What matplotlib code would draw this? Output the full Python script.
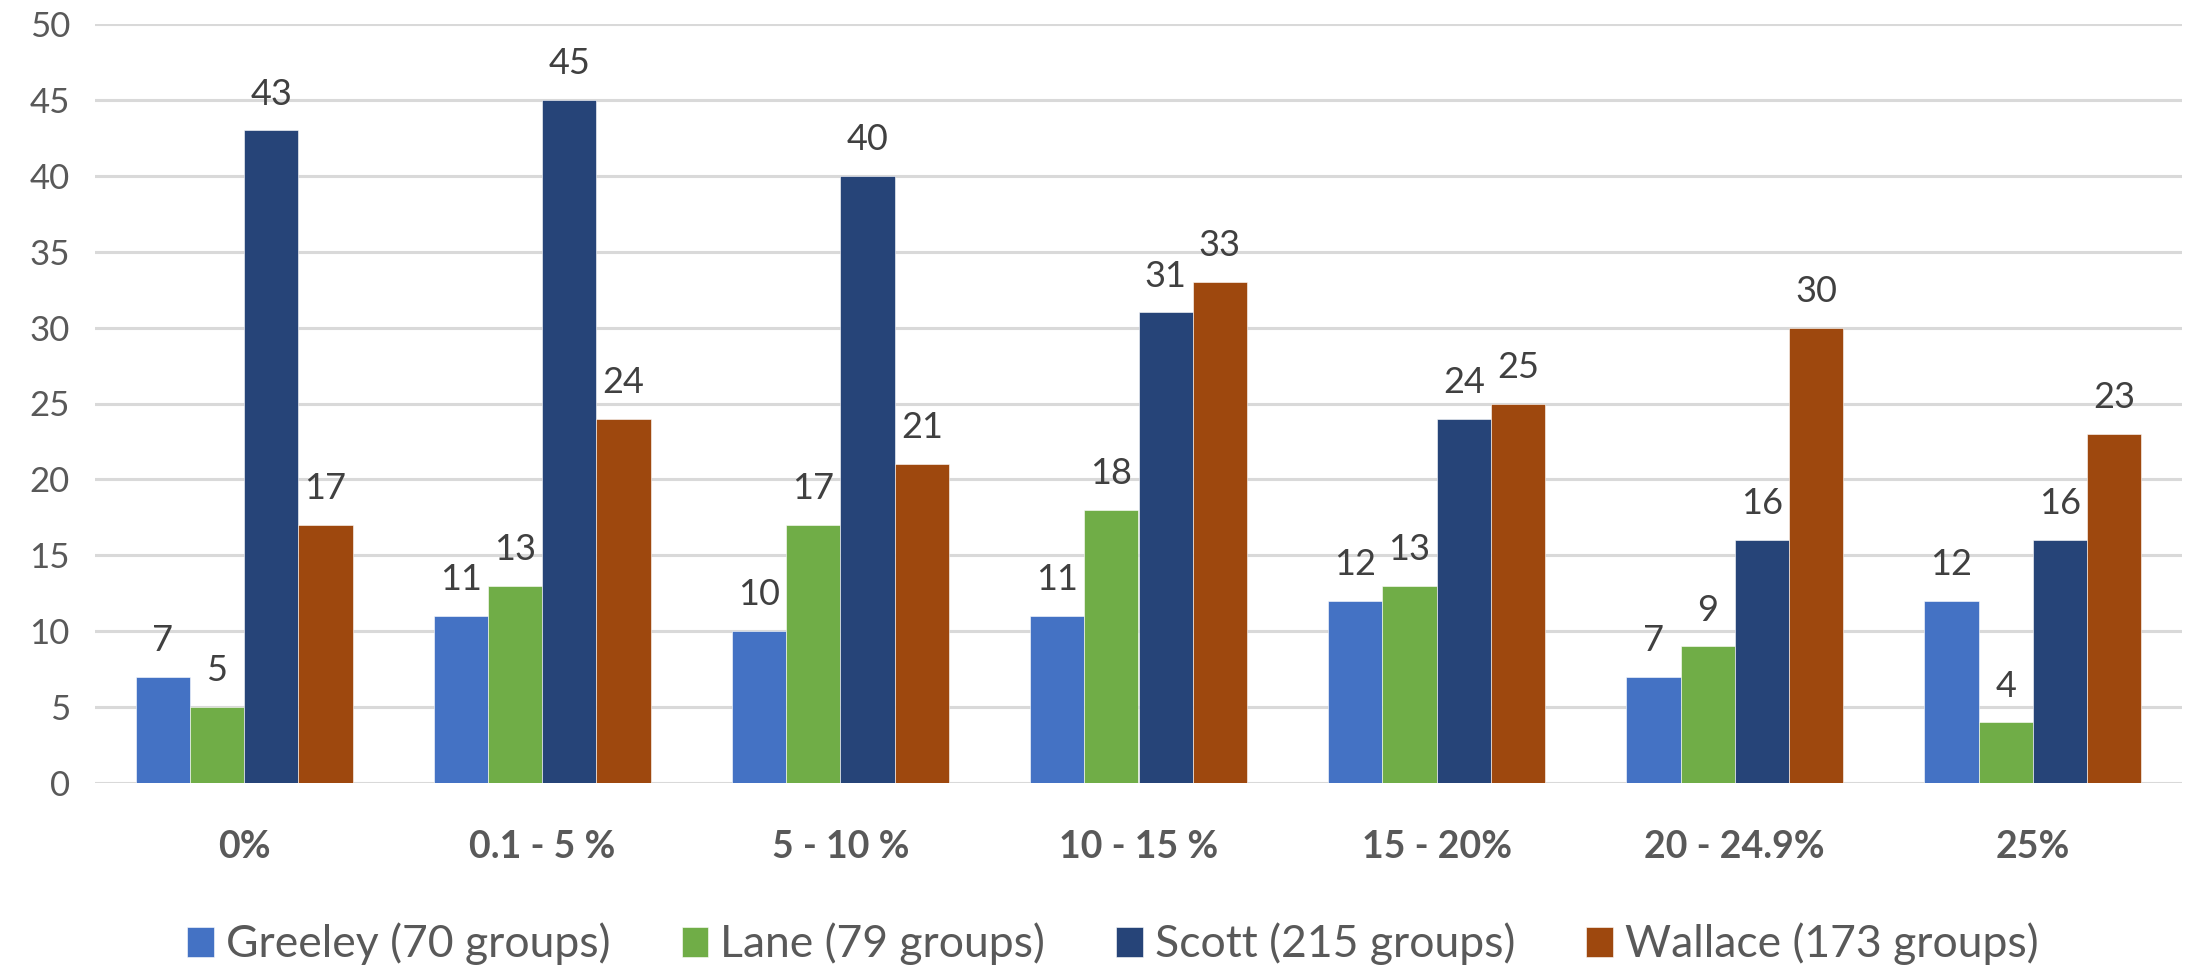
import numpy as np
import matplotlib
matplotlib.use("Agg")
import matplotlib.pyplot as plt

plt.rcParams["font.family"] = ["Lato", "DejaVu Sans"]

# ── data ─────────────────────────────────────────────────────────────────────
categories = ["0%", "0.1 - 5 %", "5 - 10 %", "10 - 15 %", "15 - 20%", "20 - 24.9%", "25%"]
series_names = ["Greeley (70 groups)", "Lane (79 groups)", "Scott (215 groups)", "Wallace (173 groups)"]
greeley = [7, 11, 10, 11, 12, 7, 12]
lane    = [5, 13, 17, 18, 13, 9, 4]
scott   = [43, 45, 40, 31, 24, 16, 16]
wallace = [17, 24, 21, 33, 25, 30, 23]

colors = ["#4472C4", "#70AD47", "#264478", "#9E480E"]
text_col = "#595959"

fig = plt.figure(figsize=(21.88, 9.68), dpi=100)
ax = fig.add_axes([95 / 2188, 1 - 783 / 968, (2182 - 95) / 2188, (783 - 24) / 968])

x = np.arange(len(categories))
bw = 0.182
for i, (vals, name) in enumerate(zip([greeley, lane, scott, wallace], series_names)):
    pos = x + (i - 1.5) * bw
    bars = ax.bar(pos, vals, width=bw, color=colors[i], label=name,
                  edgecolor="white", linewidth=0.4, zorder=3)
    for b, v in zip(bars, vals):
        ax.text(b.get_x() + b.get_width() / 2, v + 1.3, str(v),
                ha="center", va="bottom", fontsize=26, color="#404040")

ax.set_xlim(-0.5, len(categories) - 0.5)
ax.set_ylim(0, 50)
ax.set_yticks(np.arange(0, 51, 5))
ax.yaxis.grid(True, color="#D9D9D9", linewidth=2.2, zorder=0)
ax.set_axisbelow(True)
for s in ax.spines.values():
    s.set_visible(False)
ax.tick_params(axis="both", length=0)
ax.tick_params(axis="y", labelsize=25, labelcolor=text_col, pad=18)
ax.set_xticks(x)
ax.set_xticklabels(categories, fontsize=27, fontweight="bold", color=text_col)
ax.tick_params(axis="x", pad=34)

# legend row along the bottom edge
handles, labels = ax.get_legend_handles_labels()
leg = fig.legend(handles, labels, loc="center", bbox_to_anchor=(1113 / 2188, 1 - 944 / 968),
                 ncol=4, frameon=False, fontsize=32, handlelength=0.6, handleheight=0.65,
                 handletextpad=0.27, columnspacing=1.6, borderpad=0)
for t in leg.get_texts():
    t.set_color(text_col)

fig.savefig("out.png", dpi=100)
